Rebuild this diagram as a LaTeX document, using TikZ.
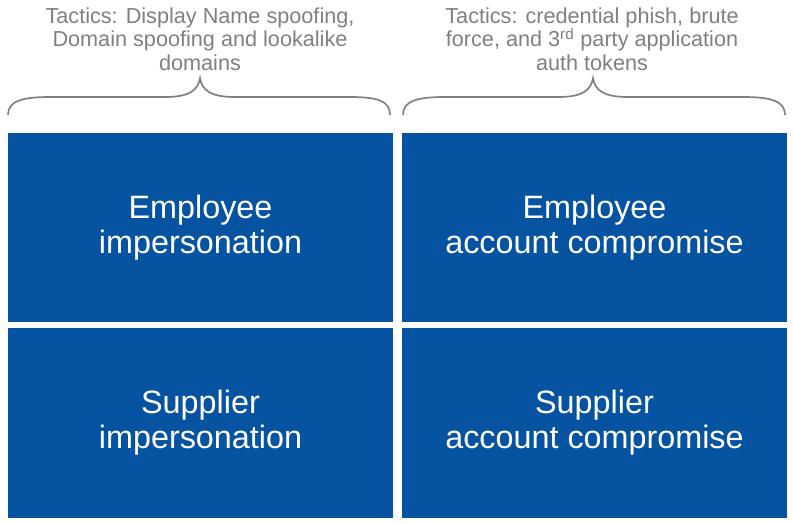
\documentclass[tikz,border=0pt]{standalone}
\usepackage{fontspec}
\setmainfont{Liberation Sans}
\usepackage{xcolor}
\definecolor{BECblue}{HTML}{0553A1}
\definecolor{BECgrey}{HTML}{808080}
\usepackage{tikz}
\usetikzlibrary{calc, positioning}

\begin{document}
\begin{tikzpicture}[x=0.025cm, y=-0.025cm,
  cell/.style={fill=BECblue, text=white, align=center, inner sep=0pt,
    minimum width=9.62cm, minimum height=4.74cm,
    font=\fontsize{23}{25}\selectfont},
  tactic/.style={text=BECgrey, align=center, inner sep=0pt,
    font=\fontsize{15.4}{16.8}\selectfont},
  bracket/.style={draw=BECgrey, line width=1.2pt}]
\useasboundingbox (0,0) rectangle (793,524);
% Tactics
\node[tactic] (tacimp) at (200,39)
  {Tactics: Display Name spoofing,\\Domain spoofing and lookalike\\domains};
\node[tactic] (tacacc) at (592,39)
  {Tactics: credential phish, brute\\force, and 3\textsuperscript{rd} party application\\auth tokens};
% Braces
\draw[bracket] (8,115) .. controls (8,101) and (22,97) .. (50,97)
  -- (165,97) .. controls (190,97) and (198,90) .. (200,78)
  .. controls (202,90) and (210,97) .. (235,97) -- (350,97)
  .. controls (378,97) and (390,101) .. (390,115);
\draw[bracket] (403,115) .. controls (403,101) and (417,97) .. (445,97)
  -- (558,97) .. controls (583,97) and (591,90) .. (593,78)
  .. controls (595,90) and (603,97) .. (628,97) -- (743,97)
  .. controls (771,97) and (785,101) .. (785,115);
% Quadrants
\node[cell] (empimp) at (200.5,227.5) {Employee\\impersonation};
\node[cell] (empacc) at (594.5,227.5) {Employee\\account compromise};
\node[cell] (supimp) at (200.5,423) {Supplier\\impersonation};
\node[cell] (supacc) at (594.5,423) {Supplier\\account compromise};
\end{tikzpicture}
\end{document}
